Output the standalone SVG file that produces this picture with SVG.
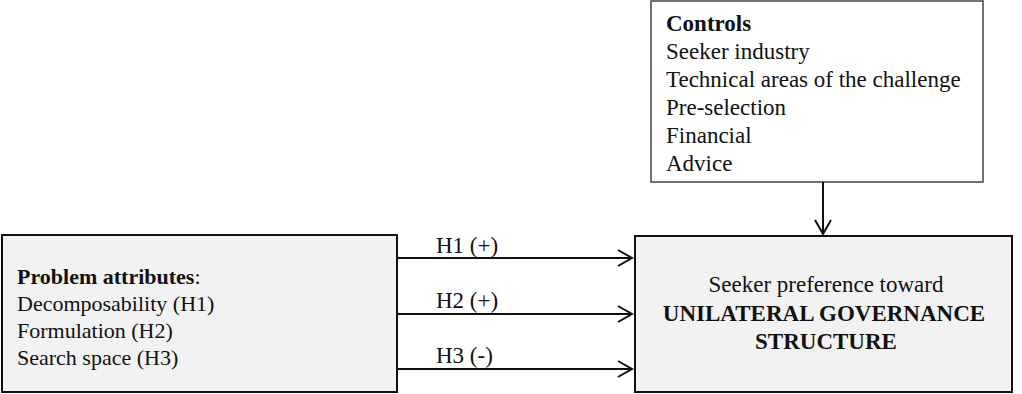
<svg xmlns="http://www.w3.org/2000/svg" width="1022" height="394" viewBox="0 0 1022 394">
<style>
text{font-family:"Liberation Serif","Times New Roman",serif;font-size:23px;fill:#111}
.s{font-size:22px}
.b{font-weight:bold}
.box{fill:#f2f2f2;stroke:#111;stroke-width:2}
.ctl{fill:#fff;stroke:#444;stroke-width:1.5}
.conn{stroke:#111;stroke-width:2;fill:none}
</style>
<defs>
<marker id="arr" markerWidth="18" markerHeight="18" refX="15" refY="9" orient="auto" markerUnits="userSpaceOnUse">
<path d="M1,1 L15,9 L1,17" fill="none" stroke="#111" stroke-width="2"/>
</marker>
</defs>
<g id="controls">
<rect class="ctl" x="651" y="1" width="332" height="181"/>
<text x="666" y="31" class="b">Controls</text>
<text x="666" y="59">Seeker industry</text>
<text x="666" y="87">Technical areas of the challenge</text>
<text x="666" y="115">Pre-selection</text>
<text x="666" y="143">Financial</text>
<text x="666" y="171">Advice</text>
</g>
<g id="problem">
<rect class="box" x="2" y="235" width="395" height="157"/>
<text x="17" y="284" class="s"><tspan class="b">Problem attributes</tspan>:</text>
<text x="17" y="311" class="s">Decomposability (H1)</text>
<text x="17" y="338" class="s">Formulation (H2)</text>
<text x="17" y="365" class="s">Search space (H3)</text>
</g>
<g id="outcome">
<rect class="box" x="635" y="236" width="377" height="156"/>
<text x="826" y="292" text-anchor="middle">Seeker preference toward</text>
<text x="824" y="321" text-anchor="middle" class="b">UNILATERAL GOVERNANCE</text>
<text x="826" y="349" text-anchor="middle" class="b">STRUCTURE</text>
</g>
<g id="connectors">
<line class="conn" x1="823" y1="182" x2="823" y2="234" marker-end="url(#arr)"/>
<line class="conn" x1="397" y1="258" x2="632" y2="258" marker-end="url(#arr)"/>
<line class="conn" x1="397" y1="314" x2="632" y2="314" marker-end="url(#arr)"/>
<line class="conn" x1="397" y1="369" x2="632" y2="369" marker-end="url(#arr)"/>
<text x="436" y="253">H1 (+)</text>
<text x="436" y="308">H2 (+)</text>
<text x="436" y="363">H3 (-)</text>
</g>
</svg>
